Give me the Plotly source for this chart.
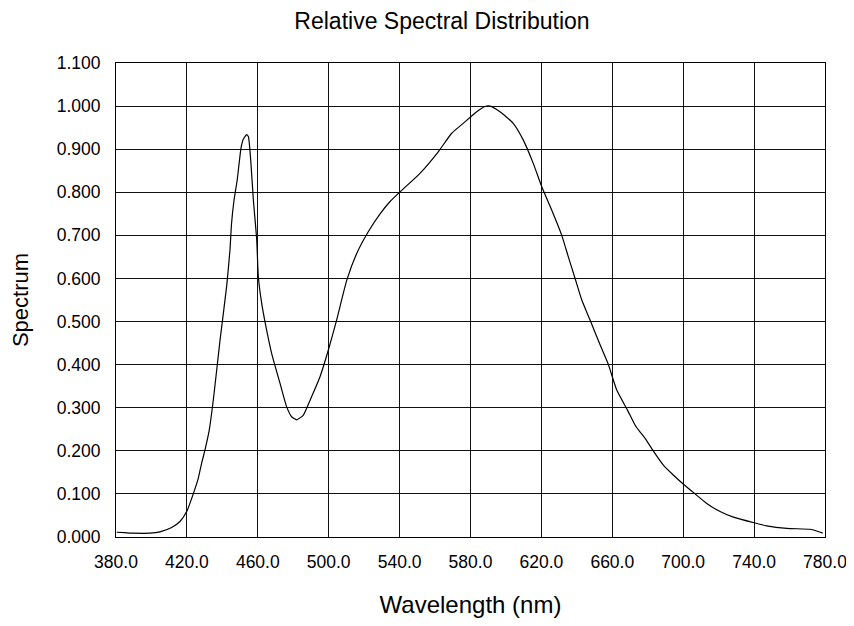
import plotly.graph_objects as go

# Wavelength (nm) and relative spectral values
wavelength = [380.4, 385.0, 389.8, 399.2, 404.8, 411.4, 416.1, 419.9, 423.6, 426.4,
              428.3, 430.2, 432.6, 434.9, 438.7, 442.4, 444.3, 445.2, 446.6, 448.4,
              450.5, 451.8, 453.7, 454.7, 456.0, 457.5, 459.4, 460.3, 462.2, 464.6,
              467.8, 472.5, 476.3, 479.1, 481.9, 485.7, 490.4, 495.1, 499.8, 504.5,
              510.2, 515.8, 522.4, 529.0, 534.5, 540.0, 551.5, 561.8, 569.4, 575.9, 583.5,
              588.2, 591.0, 596.6, 604.1, 609.8, 615.4, 620.2, 625.8, 631.5, 635.2,
              639.0, 642.8, 647.8, 653.1, 657.8, 662.5, 668.5, 672.8, 675.6, 678.5,
              683.1, 688.8, 694.4, 700.0, 706.7, 713.3, 720.8, 728.3, 740.0, 747.1,
              758.4, 771.6, 775.3, 778.7]
spectrum = [0.011, 0.010, 0.009, 0.009, 0.012, 0.022, 0.036, 0.059, 0.100, 0.136,
            0.171, 0.202, 0.248, 0.318, 0.457, 0.581, 0.666, 0.728, 0.782, 0.829,
            0.902, 0.923, 0.934, 0.929, 0.875, 0.782, 0.689, 0.604, 0.542, 0.488,
            0.426, 0.357, 0.302, 0.279, 0.272, 0.283, 0.326, 0.372, 0.434, 0.504,
            0.596, 0.658, 0.709, 0.750, 0.778, 0.800, 0.844, 0.894, 0.937, 0.960, 0.987,
            0.999, 1.000, 0.987, 0.960, 0.921, 0.867, 0.813, 0.759, 0.700, 0.650,
            0.600, 0.550, 0.500, 0.446, 0.400, 0.341, 0.295, 0.260, 0.244, 0.229,
            0.200, 0.167, 0.144, 0.123, 0.100, 0.078, 0.059, 0.046, 0.033, 0.026,
            0.020, 0.018, 0.014, 0.009]

x_ticks = [380, 420, 460, 500, 540, 580, 620, 660, 700, 740, 780]
y_ticks = [0.0, 0.1, 0.2, 0.3, 0.4, 0.5, 0.6, 0.7, 0.8, 0.9, 1.0, 1.1]

title_text = "Relative Spectral Distribution"
x_title = "Wavelength (nm)"
y_title = "Spectrum"

FONT = "Liberation Sans, Arial, sans-serif"

# The page body has an 8px margin; the figure is sized to fit the 854x626 window.
W, H = 838, 610

fig = go.Figure()
fig.add_trace(go.Scatter(
    x=wavelength, y=spectrum, mode="lines",
    line=dict(color="#000000", width=1.2, shape="spline", smoothing=0.5),
    showlegend=False, hoverinfo="x+y",
))

fig.update_layout(
    width=W, height=H,
    margin=dict(l=108, r=21, t=55, b=81, autoexpand=False),
    paper_bgcolor="white", plot_bgcolor="white",
    font=dict(family=FONT, color="#000000"),
    title=dict(text=title_text, x=434 / W, xanchor="center", xref="container",
               y=1 - 13 / H, yanchor="middle", yref="container",
               font=dict(size=23, family=FONT, color="#000000")),
)

fig.update_xaxes(
    range=[380, 780], tickvals=x_ticks, ticktext=[f"{v:.1f}" for v in x_ticks],
    showgrid=True, gridcolor="#111111", gridwidth=1,
    showline=True, linecolor="#000000", linewidth=1, mirror=True,
    ticks="", ticklabelstandoff=9, zeroline=False, automargin=False,
    ticklabeloverflow="allow",
    tickfont=dict(size=17.5, family=FONT, color="#000000"),
    title=dict(text=x_title, standoff=26, font=dict(size=24, family=FONT, color="#000000")),
)
fig.update_yaxes(
    range=[0, 1.1], tickvals=y_ticks, ticktext=[f"{v:.3f}" for v in y_ticks],
    showgrid=True, gridcolor="#111111", gridwidth=1,
    showline=True, linecolor="#000000", linewidth=1, mirror=True,
    ticks="", ticklabelstandoff=11, zeroline=False, automargin=False,
    ticklabeloverflow="allow",
    tickfont=dict(size=17.5, family=FONT, color="#000000"),
    title=dict(text=y_title, standoff=23, font=dict(size=22, family=FONT, color="#000000")),
)

fig.write_html("out.html")
